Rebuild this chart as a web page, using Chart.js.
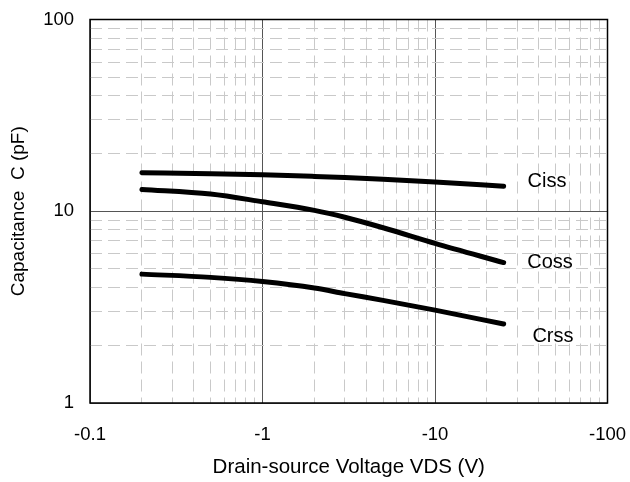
<!DOCTYPE html>
<html>
<head>
<meta charset="utf-8">
<script src="https://cdn.jsdelivr.net/npm/chart.js@4/dist/chart.umd.min.js"></script>
<style>
  html, body { margin: 0; padding: 0; background: #fff; }
  #wrap { width: 630px; height: 482px; position: relative; }
</style>
</head>
<body>
<div id="wrap"><canvas id="capChart"></canvas></div>
<script>
// VDS magnitude (V); axis labels show it with the minus sign
const vds = [0.2, 0.5, 1, 2, 3, 5, 10, 25];
const ciss = [15.9, 15.7, 15.5, 15.2, 15.0, 14.7, 14.2, 13.5];
const coss = [13.0, 12.3, 11.2, 10.1, 9.3, 8.2, 6.8, 5.4];
const crss = [4.7, 4.52, 4.3, 3.98, 3.72, 3.43, 3.05, 2.58];

const xDecades = [0.1, 1, 10, 100];
const xTickLabels = ['-0.1', '-1', '-10', '-100'];
const yDecades = [1, 10, 100];
const yTickLabels = ['1', '10', '100'];

// where the curve names sit (x, y in data units)
const curveNames = ['Ciss', 'Coss', 'Crss'];
const nameX = [44.6, 46.4, 48.3];
const nameY = [14.3, 5.42, 2.23];

const FONT = '"Liberation Sans", Arial, sans-serif';

// 1..9 per decade -> grid lines
function logTicks(decades) {
  const out = [];
  for (let d = 0; d < decades.length - 1; d++) {
    for (let k = 1; k < 10; k++) out.push({ value: decades[d] * k, major: k === 1 });
  }
  out.push({ value: decades[decades.length - 1], major: true });
  return out;
}

function labelFor(decades, labels, v) {
  const i = decades.findIndex(d => Math.abs(d - v) / d < 1e-6);
  return i >= 0 ? labels[i] : '';
}

function pts(ys) {
  return vds.map((x, i) => ({ x: x, y: ys[i] }));
}

const lineStyle = {
  borderColor: '#000',
  borderWidth: 5,
  borderCapStyle: 'round',
  borderJoinStyle: 'round',
  pointRadius: 0,
  cubicInterpolationMode: 'monotone',
  fill: false
};

const gridColor = c => (c.tick && c.tick.major) ? '#555' : '#c9c9c9';
const gridDash = c => (c.tick && !c.tick.major) ? [12, 6] : [];

// frame round the plot and the curve names
const extras = {
  id: 'extras',
  afterDatasetsDraw(chart) {
    const { ctx, chartArea: a, scales } = chart;
    ctx.save();
    ctx.strokeStyle = '#000';
    ctx.lineWidth = 1.5;
    ctx.setLineDash([]);
    ctx.strokeRect(a.left, a.top, a.right - a.left, a.bottom - a.top);
    ctx.fillStyle = '#000';
    ctx.font = '20px ' + FONT;
    ctx.textAlign = 'center';
    ctx.textBaseline = 'middle';
    curveNames.forEach((n, i) => {
      ctx.fillText(n, scales.x.getPixelForValue(nameX[i]), scales.y.getPixelForValue(nameY[i]));
    });
    ctx.restore();
  }
};

new Chart(document.getElementById('capChart'), {
  type: 'line',
  data: {
    datasets: [
      Object.assign({ label: 'Ciss', data: pts(ciss) }, lineStyle),
      Object.assign({ label: 'Coss', data: pts(coss) }, lineStyle),
      Object.assign({ label: 'Crss', data: pts(crss) }, lineStyle)
    ]
  },
  options: {
    responsive: true,
    maintainAspectRatio: false,
    animation: false,
    layout: { padding: { top: 19.5, right: 22.5, left: 0, bottom: 0 } },
    plugins: { legend: { display: false }, tooltip: { enabled: false } },
    scales: {
      x: {
        type: 'logarithmic',
        min: 0.1,
        max: 100,
        afterBuildTicks: s => { s.ticks = logTicks(xDecades); },
        afterFit: s => { s.height = 79; s.paddingLeft = 0; s.paddingRight = 0; },
        ticks: {
          autoSkip: false,
          maxRotation: 0,
          padding: 20.5,
          color: '#000',
          font: { family: FONT, size: 18.5 },
          callback: v => labelFor(xDecades, xTickLabels, v)
        },
        grid: { color: gridColor, lineWidth: 1, drawTicks: false },
        border: { display: false, dash: gridDash },
        title: {
          display: true,
          text: 'Drain-source Voltage VDS (V)',
          color: '#000',
          font: { family: FONT, size: 20.5 },
          padding: { top: 0, bottom: 2 }
        }
      },
      y: {
        type: 'logarithmic',
        min: 1,
        max: 100,
        afterBuildTicks: s => { s.ticks = logTicks(yDecades); },
        afterFit: s => { s.width = 90; s.paddingTop = 0; s.paddingBottom = 0; },
        ticks: {
          autoSkip: false,
          padding: 16,
          color: '#000',
          font: { family: FONT, size: 18.5 },
          callback: v => labelFor(yDecades, yTickLabels, v)
        },
        grid: { color: gridColor, lineWidth: 1, drawTicks: false },
        border: { display: false, dash: gridDash },
        title: {
          display: true,
          text: 'Capacitance  C (pF)',
          color: '#000',
          font: { family: FONT, size: 19 },
          padding: { top: 7, bottom: 0 }
        }
      }
    }
  },
  plugins: [extras]
});
</script>
</body>
</html>
